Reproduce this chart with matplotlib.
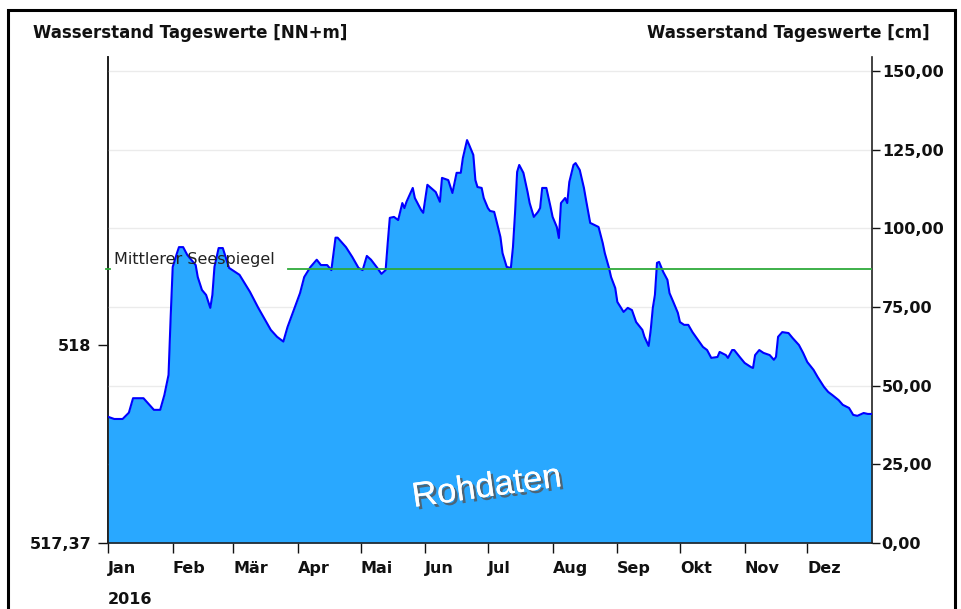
import numpy as np
import matplotlib
matplotlib.use("Agg")
import matplotlib.pyplot as plt
from matplotlib.ticker import FixedLocator, FuncFormatter
from matplotlib.patches import Rectangle
import matplotlib.patheffects as pe

plt.rcParams['font.family'] = ['DejaVu Sans']

# ---- data (day of year 2016 offset, water level in cm) ----
day_offsets = [0, 3, 7, 10, 12, 17, 19, 22, 25, 27, 29, 30, 31, 33, 34, 36, 38, 42, 43, 45,
               47, 49, 50, 51, 53, 55, 58, 63, 68, 72, 78, 81, 84, 86, 89, 92, 94, 97, 100, 102,
               105, 107, 109, 110, 114, 117, 120, 122, 124, 126, 129, 131, 133, 134, 135, 137, 139, 141, 142, 143,
               146, 147, 150, 151, 153, 157, 159, 160, 163, 165, 167, 169, 170, 172, 173, 175, 176, 177, 179, 180,
               182, 183, 185, 186, 188, 189, 191, 193, 194, 195, 196, 197, 199, 201, 202, 204, 206, 207, 208, 210,
               212, 213, 215, 216, 217, 219, 220, 221, 223, 224, 226, 228, 229, 231, 235, 237, 238, 240, 241, 243,
               244, 247, 249, 251, 253, 256, 257, 259, 260, 261, 262, 263, 264, 266, 268, 269, 271, 273, 274, 276,
               278, 280, 282, 285, 287, 289, 292, 293, 296, 297, 299, 300, 303, 305, 308, 309, 310, 312, 314, 317,
               319, 320, 321, 323, 326, 328, 331, 333, 335, 338, 340, 343, 345, 347, 350, 352, 355, 357, 359, 362,
               364, 366]
level_cm = [40.1, 39.4, 39.4, 41.4, 46.0, 46.0, 44.5, 42.3, 42.3, 47.0, 53.4, 71.5, 87.7, 92.0, 94.0, 94.0, 91.5, 88.3, 84.5, 80.4,
            78.8, 74.7, 78.8, 87.7, 93.7, 93.7, 87.4, 85.2, 79.8, 74.7, 67.7, 65.5, 64.0, 68.6, 74.0, 79.4, 84.5, 87.7, 90.0, 88.3,
            88.3, 86.7, 97.0, 97.0, 94.0, 90.9, 87.4, 86.7, 91.2, 90.0, 87.4, 85.5, 86.7, 95.3, 103.3, 103.6, 102.6, 108.0, 106.4, 108.4,
            112.8, 109.6, 105.8, 104.9, 113.8, 111.5, 108.4, 116.0, 115.3, 111.2, 117.6, 117.6, 122.3, 128.0, 126.5, 123.3, 115.3, 113.1, 112.8, 109.6,
            106.4, 105.5, 105.2, 102.6, 97.2, 92.1, 87.7, 87.4, 94.0, 104.9, 117.9, 120.1, 117.6, 111.5, 108.0, 103.6, 105.2, 106.4, 112.8, 112.8,
            106.8, 103.6, 100.4, 96.9, 108.0, 109.6, 108.0, 114.7, 120.1, 120.7, 118.5, 112.8, 109.0, 101.7, 100.4, 95.3, 92.1, 87.4, 84.5, 81.0,
            76.6, 73.4, 74.7, 74.0, 70.2, 67.7, 65.5, 62.6, 67.7, 74.7, 78.8, 89.0, 89.3, 86.1, 83.6, 79.4, 76.3, 73.1, 70.2, 69.3,
            69.3, 67.0, 65.1, 62.3, 61.3, 58.8, 59.1, 60.7, 59.7, 58.8, 61.3, 61.3, 58.8, 57.2, 55.9, 55.6, 59.7, 61.3, 60.4, 59.7,
            58.2, 59.1, 65.5, 67.0, 66.7, 65.1, 62.9, 60.4, 57.5, 55.0, 52.7, 49.6, 48.0, 47.0, 45.4, 43.9, 42.9, 40.7, 40.4, 41.3,
            41.0, 41.0]
mean_level_cm = 87.1
mean_start_day = 86
month_labels = ["Jan", "Feb", "Mär", "Apr", "Mai", "Jun", "Jul", "Aug", "Sep", "Okt", "Nov", "Dez"]
right_ticks = [0, 25, 50, 75, 100, 125, 150]
left_ticks_m = [517.37, 518.0]
base_m = 517.37
year_label = "2016"

start = np.datetime64('2016-01-01')
end = np.datetime64('2017-01-01')
dates = start + np.array(day_offsets).astype('timedelta64[D]')
month_starts = np.array([f"2016-{m:02d}-01" for m in range(1, 13)], dtype='datetime64[D]')

W, H = 962, 609
fig = plt.figure(figsize=(W / 100, H / 100), dpi=100)
ax = fig.add_axes([108 / W, 1 - 543 / H, (872 - 108) / W, (543 - 57) / H])

fill_col = '#29A8FF'
ax.fill_between(dates, 0, level_cm, color=fill_col, lw=0, zorder=2)
ax.plot(dates, level_cm, color='#0000FF', lw=1.5, zorder=3)

ax.set_xlim(start, end)
ax.set_ylim(0, 154.4)

# grid
for v in right_ticks[1:]:
    ax.axhline(v, color='#EBEBEB', lw=1.0, zorder=1)

# mean line
ax.plot([start + np.timedelta64(mean_start_day, 'D'), end], [mean_level_cm, mean_level_cm],
        color='#2EAA3A', lw=1.3, zorder=4)
ax.plot([-0.003, 0.003], [mean_level_cm, mean_level_cm], color='#2EAA3A', lw=1.3,
        transform=ax.get_yaxis_transform(), clip_on=False, zorder=4)
ax.text(start + np.timedelta64(3, 'D'), mean_level_cm + 0.6, "Mittlerer Seespiegel",
        fontsize=11.5, color='#222222', va='bottom', ha='left', zorder=5)

# spines
ax.spines['top'].set_visible(False)
for s in ['left', 'right', 'bottom']:
    ax.spines[s].set_linewidth(1.2)
    ax.spines[s].set_color('#222222')

# right axis ticks (cm)
ax.yaxis.tick_right()
ax.yaxis.set_major_locator(FixedLocator(right_ticks))
ax.yaxis.set_major_formatter(FuncFormatter(lambda v, p: f"{v:.2f}".replace('.', ',')))
ax.tick_params(axis='y', which='major', length=6, width=1, pad=1, labelsize=11.5,
               colors='#111111', direction='out')
for lab in ax.get_yticklabels():
    lab.set_fontweight('bold')

# left axis (m)
sec = ax.secondary_yaxis('left', functions=(lambda c: base_m + c / 100.0, lambda m: (m - base_m) * 100.0))
sec.set_yticks(left_ticks_m)
sec.yaxis.set_major_formatter(FuncFormatter(
    lambda v, p: (f"{v:.2f}".replace('.', ',') if abs(v - round(v)) > 1e-6 else f"{int(round(v))}")))
sec.tick_params(axis='y', length=7, width=1, pad=5, labelsize=11.5, colors='#111111')
for lab in sec.get_yticklabels():
    lab.set_fontweight('bold')
sec.spines['left'].set_linewidth(1.2)

# x axis months
ax.set_xticks(month_starts)
ax.set_xticklabels(month_labels)
ax.tick_params(axis='x', length=7, width=1, pad=6, labelsize=11.5, colors='#111111')
for lab in ax.get_xticklabels():
    lab.set_fontweight('bold')
    lab.set_horizontalalignment('left')
ax.text(0.0, -0.1, year_label, transform=ax.transAxes, fontsize=11.5, fontweight='bold',
        ha='left', va='top', color='#111111')

# titles
fig.text(33 / W, 1 - 33 / H, "Wasserstand Tageswerte [NN+m]", fontsize=12, fontweight='bold',
         ha='left', va='center', color='#111111')
fig.text(930 / W, 1 - 33 / H, "Wasserstand Tageswerte [cm]", fontsize=12, fontweight='bold',
         ha='right', va='center', color='#111111')

# watermark
ax.text(0.496, 0.115, "Rohdaten", transform=ax.transAxes, fontsize=25, color='white',
        family='Liberation Sans', rotation=8, ha='center', va='center', zorder=6,
        path_effects=[pe.withSimplePatchShadow(offset=(2, -2), shadow_rgbFace='#555555', alpha=0.8),
                      pe.Normal()])

# frame around figure
fig.patches.append(Rectangle((8 / W, -0.05), (955 - 8) / W, 1 - 10 / H + 0.05, transform=fig.transFigure,
                             fill=False, edgecolor='black', lw=2.2))

fig.savefig("out.png", dpi=100)
